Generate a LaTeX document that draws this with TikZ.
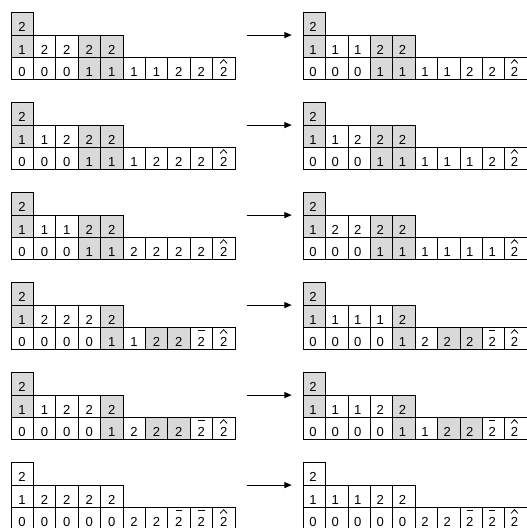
\documentclass[tikz,border=0pt]{standalone}
\usepackage{fontspec}
\setmainfont{Liberation Sans}
\usetikzlibrary{arrows.meta}
\definecolor{shade}{RGB}{217,217,217}
\tikzset{
  cellbox/.style={draw=black, line width=0.7pt, minimum width=16.8pt, minimum height=16.8pt, inner sep=0pt, outer sep=0pt, anchor=north west},
  dig/.style={anchor=base west, inner sep=0pt, outer sep=0pt, font=\fontsize{9.8}{11}\selectfont},
  accent/.style={line width=0.6pt},
  flow/.style={-{Triangle[length=5.5pt,width=4.5pt]}, line width=0.75pt}
}
% #1 name, #2 x, #3 y, #4 value, #5 shaded, #6 text offset
\newcommand\tcell[6]{%
  \ifnum#5=1 \def\cfill{shade}\else\def\cfill{white}\fi
  \node[cellbox, fill=\cfill] (#1) at (#2,#3) {};
  \ifnum#4<3
    \node[dig] (#1-t) at ([shift={(#6,-3.3)}]#1.south west) {#4};
  \else
    \node[dig] (#1-t) at ([shift={(#6,-3.3)}]#1.south west) {2};
    \ifnum#4=3
      \draw[accent] ([shift={(#6+0.4,2.8)}]#1.north west) -- ([shift={(#6+6.9,2.8)}]#1.north west);
    \else
      \draw[accent] ([shift={(#6+0.1,5.9)}]#1.north west) -- ([shift={(#6+3.6,2.2)}]#1.north west) -- ([shift={(#6+7.1,5.9)}]#1.north west);
    \fi
  \fi
}
% #1 name, #2 x, #3 y(top), #4 offset, #5 #6 #7 rows
\newcommand\tableau[7]{%
  \foreach \v/\s [count=\i from 0] in {#5} {\tcell{#1-a-\i}{#2+\i*22.4}{#3}{\v}{\s}{#4}}
  \foreach \v/\s [count=\i from 0] in {#6} {\tcell{#1-b-\i}{#2+\i*22.4}{#3+22.4}{\v}{\s}{#4}}
  \foreach \v/\s [count=\i from 0] in {#7} {\tcell{#1-c-\i}{#2+\i*22.4}{#3+44.8}{\v}{\s}{#4}}
}
\begin{document}
\begin{tikzpicture}[x=0.75pt, y=-0.75pt]
\useasboundingbox (0,0) rectangle (526,528);
\fill[white] (0,0) rectangle (526,528);

% row 1
\tableau{L1}{11}{12.7}{7.4}{2/1}{1/1,2/0,2/0,2/1,2/1}{0/0,0/0,0/0,1/1,1/1,1/0,1/0,2/0,2/0,4/0}
\tableau{R1}{303.3}{12.7}{6.0}{2/1}{1/1,1/0,1/0,2/1,2/1}{0/0,0/0,0/0,1/1,1/1,1/0,1/0,2/0,2/0,4/0}
% row 2
\tableau{L2}{11}{102.7}{7.4}{2/1}{1/1,1/0,2/0,2/1,2/1}{0/0,0/0,0/0,1/1,1/1,1/0,2/0,2/0,2/0,4/0}
\tableau{R2}{303.3}{102.7}{6.0}{2/1}{1/1,1/0,2/0,2/1,2/1}{0/0,0/0,0/0,1/1,1/1,1/0,1/0,1/0,2/0,4/0}
% row 3
\tableau{L3}{11}{192.7}{7.4}{2/1}{1/1,1/0,1/0,2/1,2/1}{0/0,0/0,0/0,1/1,1/1,2/0,2/0,2/0,2/0,4/0}
\tableau{R3}{303.3}{192.7}{6.0}{2/1}{1/1,2/0,2/0,2/1,2/1}{0/0,0/0,0/0,1/1,1/1,1/0,1/0,1/0,1/0,4/0}
% row 4
\tableau{L4}{11}{282.7}{7.4}{2/1}{1/1,2/0,2/0,2/0,2/1}{0/0,0/0,0/0,0/0,1/1,1/0,2/1,2/1,3/0,4/0}
\tableau{R4}{303.3}{282.7}{6.0}{2/1}{1/1,1/0,1/0,1/0,2/1}{0/0,0/0,0/0,0/0,1/1,2/0,2/1,2/1,3/0,4/0}
% row 5
\tableau{L5}{11}{372.7}{7.4}{2/1}{1/1,1/0,2/0,2/0,2/1}{0/0,0/0,0/0,0/0,1/1,2/0,2/1,2/1,3/0,4/0}
\tableau{R5}{303.3}{372.7}{6.0}{2/1}{1/1,1/0,1/0,2/0,2/1}{0/0,0/0,0/0,0/0,1/1,1/0,2/1,2/1,3/0,4/0}
% row 6
\tableau{L6}{11}{462.7}{7.4}{2/0}{1/0,2/0,2/0,2/0,2/0}{0/0,0/0,0/0,0/0,0/0,2/0,2/0,3/0,3/0,4/0}
\tableau{R6}{303.3}{462.7}{6.0}{2/0}{1/0,1/0,1/0,2/0,2/0}{0/0,0/0,0/0,0/0,0/0,2/0,2/0,3/0,3/0,4/0}

% arrows
\foreach \r/\y in {1/35.1,2/125.1,3/215.1,4/305.1,5/395.1,6/485.1} {
  \coordinate (s\r) at (246.7,\y);
  \coordinate (e\r) at (291.7,\y);
  \draw[flow] (s\r) -- (e\r);
}
\end{tikzpicture}
\end{document}
